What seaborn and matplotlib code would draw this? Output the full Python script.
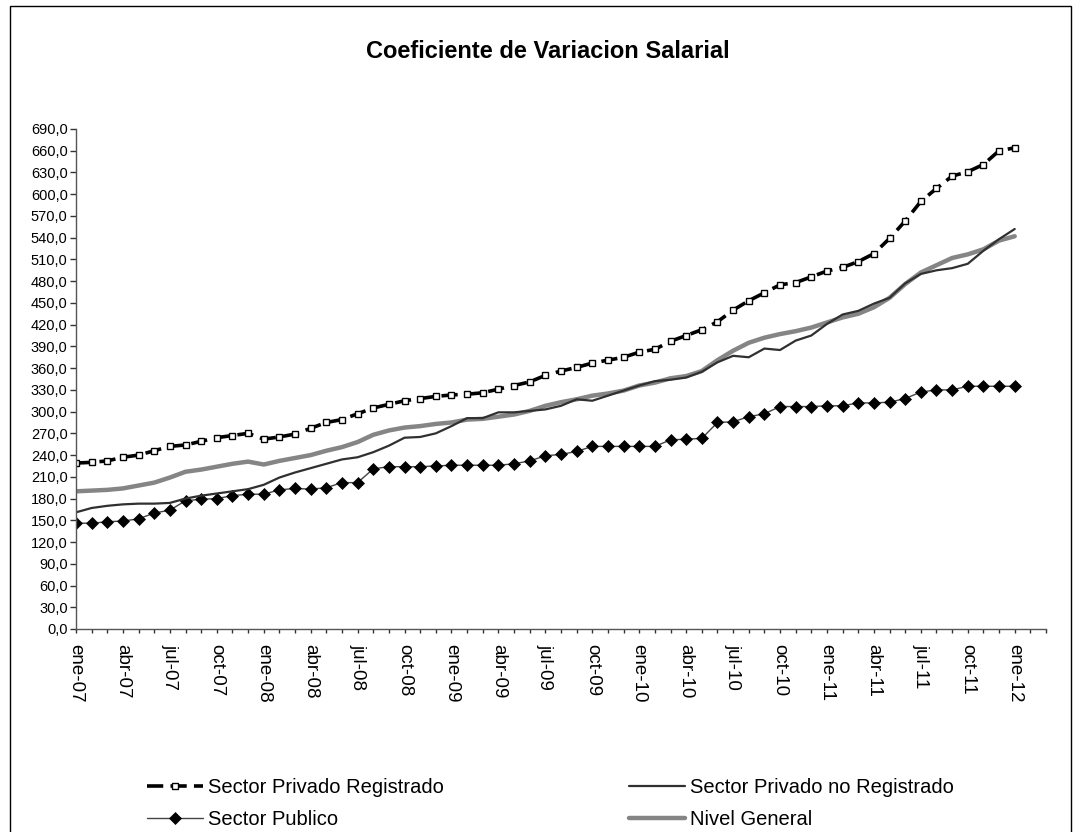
import numpy as np
import pandas as pd
import seaborn as sns
import matplotlib.pyplot as plt
from matplotlib.patches import Rectangle

# monthly index values, ene-07 .. ene-12 (61 months)
privado_registrado = [229, 230, 232, 237, 240, 246, 252, 254, 259, 264, 267, 270,
                      262, 265, 269, 277, 285, 289, 297, 305, 310, 315, 318, 321,
                      323, 324, 326, 331, 336, 341, 350, 356, 361, 367, 371, 375,
                      382, 386, 397, 405, 413, 424, 440, 453, 464, 475, 478, 486,
                      494, 499, 507, 518, 539, 563, 590, 608, 625, 631, 641, 660,
                      664]
privado_no_registrado = [161, 167, 170, 172, 173, 173, 174, 180, 184, 187, 190, 193,
                         199, 209, 216, 222, 228, 234, 237, 244, 253, 264, 265, 270,
                         280, 291, 291, 299, 299, 301, 303, 308, 317, 315, 322, 329,
                         336, 342, 344, 347, 355, 368, 377, 375, 387, 385, 398, 405,
                         421, 434, 439, 449, 457, 477, 490, 495, 498, 504, 522, 538,
                         552]
sector_publico = [146, 146, 148, 149, 152, 160, 164, 177, 179, 180, 184, 186,
                  186, 192, 194, 193, 195, 202, 202, 221, 224, 224, 224, 225,
                  226, 226, 226, 226, 228, 232, 239, 241, 245, 252, 252, 252,
                  252, 252, 261, 262, 263, 285, 286, 293, 297, 307, 307, 307,
                  308, 308, 312, 312, 313, 318, 327, 330, 330, 335, 335, 335,
                  335]
nivel_general = [190, 191, 192, 194, 198, 202, 209, 217, 220, 224, 228, 231,
                 227, 232, 236, 240, 246, 251, 258, 268, 274, 278, 280, 283,
                 285, 289, 290, 293, 296, 301, 308, 313, 317, 322, 325, 329,
                 336, 340, 346, 349, 356, 371, 384, 395, 402, 407, 411, 416,
                 423, 430, 435, 444, 457, 476, 492, 502, 512, 517, 524, 536,
                 542]

tick_labels = ['ene-07', 'abr-07', 'jul-07', 'oct-07',
               'ene-08', 'abr-08', 'jul-08', 'oct-08',
               'ene-09', 'abr-09', 'jul-09', 'oct-09',
               'ene-10', 'abr-10', 'jul-10', 'oct-10',
               'ene-11', 'abr-11', 'jul-11', 'oct-11',
               'ene-12']

df = pd.DataFrame({
    'mes': np.arange(len(privado_registrado)),
    'reg': privado_registrado,
    'noreg': privado_no_registrado,
    'pub': sector_publico,
    'gral': nivel_general,
})

sns.set_style('ticks')
plt.rcParams['font.family'] = ['Liberation Sans', 'DejaVu Sans']
plt.rcParams['text.color'] = 'black'
plt.rcParams['xtick.color'] = 'black'
plt.rcParams['ytick.color'] = 'black'
plt.rcParams['xtick.labelcolor'] = 'black'
plt.rcParams['ytick.labelcolor'] = 'black'

fig = plt.figure(figsize=(10.74, 8.32), dpi=100)
ax = fig.add_axes([76 / 1074, 1 - 629 / 832, (1046 - 76) / 1074, 500 / 832])

# the four series
sns.lineplot(data=df, x='mes', y='reg', ax=ax, color='black', lw=2.6,
             linestyle=(0, (4.5, 2)), marker='s', markersize=5,
             markerfacecolor='white', mec='black', mew=1,
             label='Sector Privado Registrado')
sns.lineplot(data=df, x='mes', y='pub', ax=ax, color='#444444', lw=1,
             marker='D', markersize=6.3, markerfacecolor='black', mec='black',
             mew=0.5, label='Sector Publico')
sns.lineplot(data=df, x='mes', y='gral', ax=ax, color='#858585', lw=3.2,
             label='Nivel General')
sns.lineplot(data=df, x='mes', y='noreg', ax=ax, color='#303030', lw=1.6,
             label='Sector Privado no Registrado')

ax.set_xlim(0, 62)
ax.set_ylim(0, 690)
ax.set_xlabel('')
ax.set_ylabel('')

yt = np.arange(0, 691, 30)
ax.set_yticks(yt)
ax.set_yticklabels([f'{v:.1f}'.replace('.', ',') for v in yt],
                   family=['Liberation Sans Narrow', 'Liberation Sans'],
                   fontsize=10.5, color='black')

xt = np.arange(0, 63)
ax.set_xticks(xt)
labs = []
for i in xt:
    if i % 3 == 0 and i // 3 < len(tick_labels):
        labs.append(tick_labels[i // 3])
    else:
        labs.append('')
ax.set_xticklabels(labs, rotation=-90, ha='center', va='top', fontsize=13.5,
                   color='black')

ax.tick_params(axis='y', direction='out', length=4.5, width=1, pad=1.5,
               color='#333333')
ax.tick_params(axis='x', direction='out', length=3, width=1, pad=8,
               color='#333333')
for s in ['top', 'right']:
    ax.spines[s].set_visible(False)
for s in ['left', 'bottom']:
    ax.spines[s].set_color('#555555')
    ax.spines[s].set_linewidth(1)

ax.get_legend().remove()
handles, names = ax.get_legend_handles_labels()
h = dict(zip(names, handles))

leg1 = fig.legend([h['Sector Privado Registrado'], h['Sector Publico']],
                  ['Sector Privado Registrado', 'Sector Publico'],
                  loc='center left', bbox_to_anchor=(147 / 1074, 1 - 803.5 / 832),
                  frameon=False, fontsize=14.5, handlelength=2.8,
                  handletextpad=0.25, borderpad=0, borderaxespad=0,
                  labelspacing=0.65, labelcolor='black')
leg2 = fig.legend([h['Sector Privado no Registrado'], h['Nivel General']],
                  ['Sector Privado no Registrado', 'Nivel General'],
                  loc='center left', bbox_to_anchor=(629 / 1074, 1 - 803.5 / 832),
                  frameon=False, fontsize=14.5, handlelength=2.8,
                  handletextpad=0.25, borderpad=0, borderaxespad=0,
                  labelspacing=0.65, labelcolor='black')

fig.text(548 / 1074, 1 - 52 / 832, 'Coeficiente de Variacion Salarial',
         ha='center', va='center', fontsize=17, fontweight='bold', color='black')

# outer chart frame
fig.patches.append(Rectangle((10 / 1074, -0.01), 1061 / 1074, 1 - 6 / 832 + 0.01,
                             transform=fig.transFigure, fill=False,
                             edgecolor='black', lw=1))

fig.savefig('out.png', dpi=100, facecolor='white')
